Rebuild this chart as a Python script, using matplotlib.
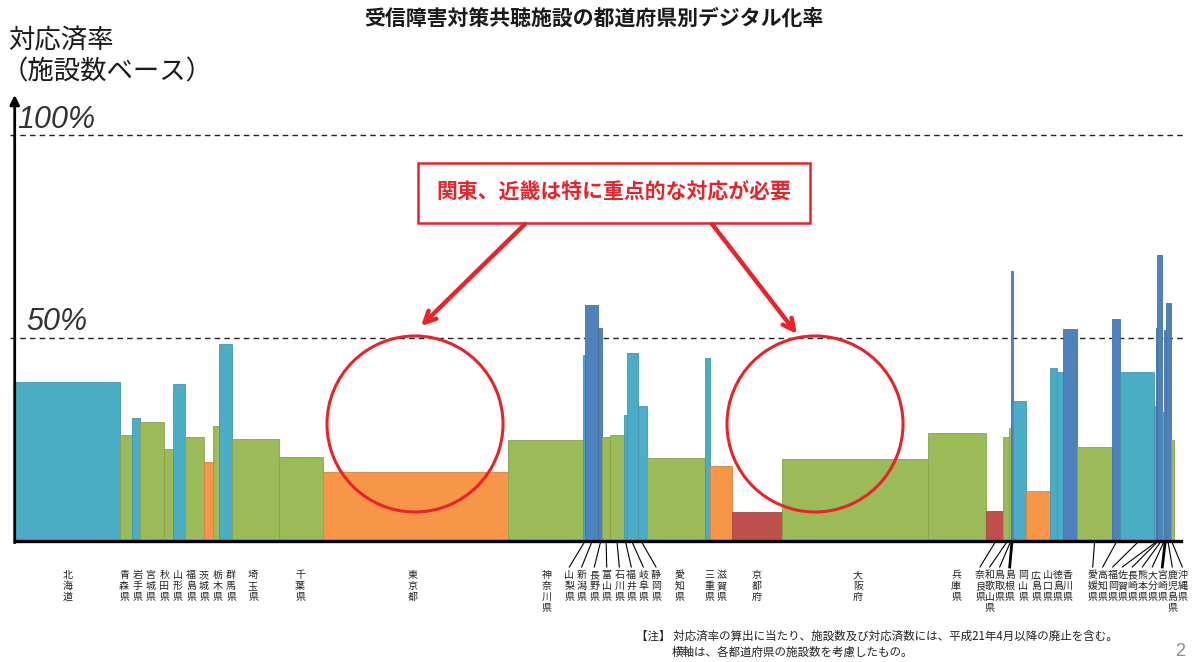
import matplotlib
matplotlib.use('Agg')
import matplotlib.pyplot as plt
from matplotlib.patches import Circle, Rectangle
from matplotlib.colors import to_rgb
import numpy as np

plt.rcParams['font.family'] = ['Noto Sans CJK JP', 'DejaVu Sans']

# ---- data (width ~ number of facilities, relative units) ----
prefs = ['北海道', '青森県', '岩手県', '宮城県', '秋田県', '山形県', '福島県', '茨城県',
         '栃木県', '群馬県', '埼玉県', '千葉県', '東京都', '神奈川県', '山梨県', '新潟県',
         '長野県', '富山県', '石川県', '福井県', '岐阜県', '静岡県', '愛知県', '三重県',
         '滋賀県', '京都府', '大阪府', '兵庫県', '奈良県', '和歌山県', '鳥取県', '島根県',
         '岡山県', '広島県', '山口県', '徳島県', '香川県', '愛媛県', '高知県', '福岡県',
         '佐賀県', '長崎県', '熊本県', '大分県', '宮崎県', '鹿児島県', '沖縄県']
widths = [105.0, 12.3, 7.7, 24.0, 9.3, 11.7, 19.0, 9.6,
          5.7, 12.7, 47.3, 43.7, 185.6, 75.0, 1.2, 13.8,
          4.0, 7.7, 14.3, 3.0, 10.4, 9.0, 58.3, 4.7,
          22.0, 50.0, 146.3, 58.0, 17.3, 5.7, 2.0, 1.7,
          13.0, 23.8, 7.2, 6.6, 14.0, 34.4, 8.3, 34.0,
          1.5, 1.8, 5.0, 2.0, 1.5, 4.9, 3.3]
rates = [39.1, 26.0, 30.4, 29.2, 22.7, 38.6, 25.7, 19.4,
         28.3, 48.4, 25.2, 20.8, 16.9, 24.9, 45.8, 58.1,
         52.5, 25.7, 26.1, 31.0, 46.2, 33.3, 20.4, 45.0,
         18.5, 7.2, 20.2, 26.7, 7.4, 25.5, 27.8, 66.6,
         34.5, 12.3, 42.7, 41.7, 52.1, 23.2, 54.8, 41.7,
         33.3, 52.5, 70.4, 31.7, 52.0, 58.7, 24.9]

# label centres (pixels) and which labels get leader lines
label_px = [68, 124, 137.5, 150.5, 164.5, 177.5, 191, 204,
            217.5, 231, 253, 300, 413, 546.7, 569.3, 581.7,
            594.3, 606.7, 619.3, 631.3, 643.3, 656, 679.3, 709.3,
            721.7, 756.7, 858, 956, 980, 989.7, 999.7, 1009.7,
            1023.3, 1036, 1047.7, 1057.7, 1067.7, 1092.7, 1102.7, 1112.7,
            1122.3, 1132.3, 1142.3, 1152.3, 1162.3, 1172.3, 1182.3]
leader = {'山梨県', '新潟県', '長野県', '富山県', '石川県', '福井県', '岐阜県', '静岡県',
          '奈良県', '和歌山県', '鳥取県', '島根県',
          '愛媛県', '高知県', '福岡県', '佐賀県', '長崎県', '熊本県', '大分県', '宮崎県',
          '鹿児島県', '沖縄県'}
thick_leader = {'島根県', '宮崎県'}

RED = '#E8232A'


def rate_color(r):
    if r < 10:
        return '#C0504D'
    if r < 20:
        return '#F79646'
    if r < 30:
        return '#9BBB59'
    if r < 50:
        return '#4BACC6'
    return '#4F81BD'


W, H = 1197, 662
fig = plt.figure(figsize=(W / 100, H / 100), dpi=100)

# main axes: x in facility units (1 unit ~ 1 px), y in %
x0_px, base_px, top_px, px_per_pct = 14.7, 541, 95, 4.06
ax = fig.add_axes([x0_px / W, (H - base_px) / H, 1166 / W, (base_px - top_px) / H])
ax.set_xlim(0, 1166)
ax.set_ylim(0, (base_px - top_px) / px_per_pct)

lefts = np.concatenate([[0], np.cumsum(widths)[:-1]])
colors = [rate_color(r) for r in rates]
edges = [tuple(np.array(to_rgb(c)) * 0.88) for c in colors]
ax.bar(lefts, rates, width=widths, align='edge', color=colors,
       edgecolor=edges, linewidth=0.6, zorder=2)

for lvl in (50, 100):
    ax.axhline(lvl, color='#222222', lw=1.0, ls=(0, (4, 3)), zorder=1,
               xmin=-0.004, xmax=1.002, clip_on=False)

for s in ('top', 'right', 'left'):
    ax.spines[s].set_visible(False)
ax.spines['bottom'].set_linewidth(2.4)
ax.set_xticks([])
ax.set_yticks([])
ax.annotate('', xy=(0, 1.0), xytext=(0, -0.004), xycoords='axes fraction',
            arrowprops=dict(arrowstyle='-|>', lw=2.0, color='black',
                            mutation_scale=14, shrinkA=0, shrinkB=0))

# overlay in pixel coordinates for text and annotations
ov = fig.add_axes([0, 0, 1, 1], facecolor='none')
ov.set_xlim(0, W)
ov.set_ylim(H, 0)
ov.axis('off')

ov.text(594, 18, '受信障害対策共聴施設の都道府県別デジタル化率', ha='center', va='center',
        fontsize=15, fontweight='bold', color='#1a1a1a')
ov.text(8, 41, '対応済率', ha='left', va='center', fontsize=19, color='#1a1a1a')
ov.text(2, 72, '（施設数ベース）', ha='left', va='center', fontsize=19, color='#1a1a1a')

ov.text(17, 120, '100%', ha='left', va='center', fontsize=22, style='italic',
        family='Liberation Sans', color='#333333')
ov.text(26, 322, '50%', ha='left', va='center', fontsize=22, style='italic',
        family='Liberation Sans', color='#333333')

# prefecture labels
centres = lefts + np.array(widths) / 2
for name, c, lx in zip(prefs, centres, label_px):
    cx = ax.transData.transform((c, 0))[0]
    ov.text(lx, 570, '\n'.join(name), ha='center', va='top', fontsize=7.2,
            linespacing=1.12, color='#222222')
    if name in leader:
        ov.plot([cx, lx], [543, 567], color='black',
                lw=2.0 if name in thick_leader else 0.8)

# callout box, arrows, circles
ov.add_patch(Rectangle((418, 163), 392, 60, facecolor='white', edgecolor=RED, lw=1.8))
ov.text(614, 192, '関東、近畿は特に重点的な対応が必要', ha='center', va='center',
        fontsize=15, fontweight='bold', color=RED)
for start, end in [((525, 224), (421, 326)), ((712, 224), (797, 334))]:
    ov.annotate('', xy=end, xytext=start,
                arrowprops=dict(arrowstyle='->,head_length=0.8,head_width=0.4',
                                lw=3.2, color=RED, shrinkA=0, shrinkB=0))
ov.add_patch(Circle((415, 424), 88, fill=False, edgecolor=RED, lw=2.2))
ov.add_patch(Circle((815, 424), 88, fill=False, edgecolor=RED, lw=2.2))

# notes
ov.text(636, 636, '【注】 対応済率の算出に当たり、施設数及び対応済数には、平成21年4月以降の廃止を含む。',
        ha='left', va='center', fontsize=8.3, color='#222222')
ov.text(672, 652, '横軸は、各都道府県の施設数を考慮したもの。',
        ha='left', va='center', fontsize=8.3, color='#222222')
ov.text(1180, 652, '2', ha='center', va='center', fontsize=13, color='#8c8c8c',
        family='Liberation Sans')

fig.savefig('out.png', dpi=100)
